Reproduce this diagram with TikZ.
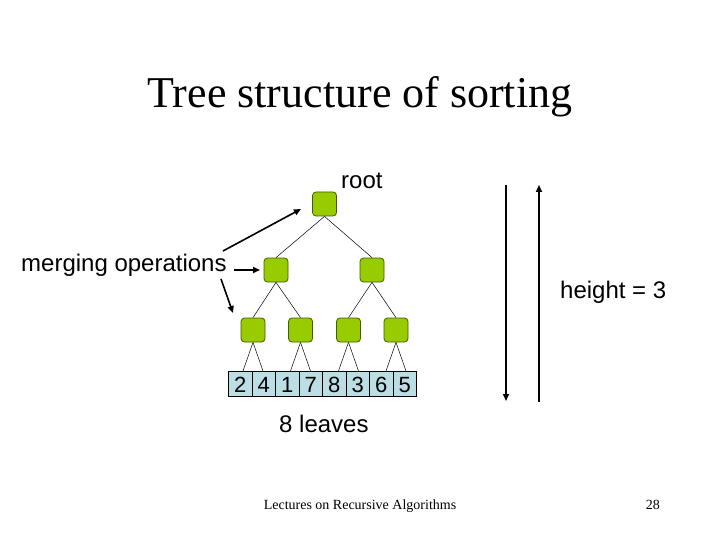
\documentclass[tikz,border=0pt]{standalone}
\usepackage{fontspec}
\setmainfont{Liberation Serif}
\setsansfont{Liberation Sans}
\usetikzlibrary{arrows.meta}
\definecolor{nodegreen}{RGB}{153,204,0}
\definecolor{nodeborder}{RGB}{70,90,0}
\definecolor{cellblue}{RGB}{186,222,228}
\begin{document}
\begin{tikzpicture}[x=1pt,y=-1pt,
  treenode/.style={draw=nodeborder,fill=nodegreen,line width=0.8pt,rounded corners=3.5pt,minimum width=24pt,minimum height=24pt,inner sep=0pt},
  cell/.style={draw=black,fill=cellblue,line width=0.6pt,minimum width=23.5pt,minimum height=25pt,inner sep=0pt,font=\sffamily\fontsize{22}{26}\selectfont},
  edge/.style={draw=black,line width=0.5pt},
  bigarrow/.style={draw=black,line width=1.6pt,-{Triangle[length=7pt,width=6pt]}},
  sans24/.style={font=\sffamily\fontsize{24}{28}\selectfont,inner sep=0pt},
]
\useasboundingbox (0,0) rectangle (720,540);
\fill[white] (0,0) rectangle (720,540);
% title
\node[anchor=base,inner sep=0pt,font=\fontsize{44}{50}\selectfont] (title) at (360,108) {Tree structure of sorting};
% tree nodes
\node[treenode] (r) at (324.5,204) {};
\node[treenode] (a) at (276,270) {};
\node[treenode] (b) at (372,270) {};
\node[treenode] (l1) at (253,330) {};
\node[treenode] (l2) at (300.5,330) {};
\node[treenode] (l3) at (348.5,330) {};
\node[treenode] (l4) at (396,330) {};
% array cells
\foreach \d [count=\i] in {2,4,1,7,8,3,6,5} {
  \node[cell] (c\i) at ({228.5+23.5*\i-11.75},383.75) {};
  \node[anchor=base,inner sep=0pt,font=\sffamily\fontsize{22}{26}\selectfont] (d\i) at ({228.5+23.5*\i-11.75},392) {\d};
}
% edges
\draw[edge] (r.south) -- (a.north);
\draw[edge] (r.south) -- (b.north);
\draw[edge] (a.south) -- (l1.north);
\draw[edge] (a.south) -- (l2.north);
\draw[edge] (b.south) -- (l3.north);
\draw[edge] (b.south) -- (l4.north);
\draw[edge] (l1.south) -- ([xshift=-10pt]l1.south |- c1.north);
\draw[edge] (l1.south) -- ([xshift=10pt]l1.south |- c2.north);
\draw[edge] (l2.south) -- ([xshift=-10pt]l2.south |- c3.north);
\draw[edge] (l2.south) -- ([xshift=10pt]l2.south |- c4.north);
\draw[edge] (l3.south) -- ([xshift=-10pt]l3.south |- c5.north);
\draw[edge] (l3.south) -- ([xshift=10pt]l3.south |- c6.north);
\draw[edge] (l4.south) -- ([xshift=-10pt]l4.south |- c7.north);
\draw[edge] (l4.south) -- ([xshift=10pt]l4.south |- c8.north);
% labels
\node[sans24,anchor=base west] (root) at (341,189) {root};
\node[sans24,anchor=base west] (merge) at (21,271) {merging operations};
\node[sans24,anchor=base west] (height) at (560,298) {height = 3};
\node[sans24,anchor=base west] (leaves) at (279,432) {8 leaves};
% merging arrows
\coordinate (m1s) at (223,251);
\coordinate (m1e) at (301,209);
\coordinate (m2s) at (234,270);
\coordinate (m2e) at (260,270);
\coordinate (m3s) at (221,279);
\coordinate (m3e) at (233,313);
\draw[bigarrow] (m1s) -- (m1e);
\draw[bigarrow] (m2s) -- (m2e);
\draw[bigarrow] (m3s) -- (m3e);
% height arrows
\coordinate (h1s) at (506,185);
\coordinate (h1e) at (506,401);
\coordinate (h2s) at (539,402);
\coordinate (h2e) at (539,185);
\draw[bigarrow] (h1s) -- (h1e);
\draw[bigarrow] (h2s) -- (h2e);
% footer
\node[anchor=base,inner sep=0pt,font=\fontsize{14}{16}\selectfont] (foot) at (360,509) {Lectures on Recursive Algorithms};
\node[anchor=base east,inner sep=0pt,font=\fontsize{14}{16}\selectfont] (page) at (660,509) {28};
\end{tikzpicture}
\end{document}
